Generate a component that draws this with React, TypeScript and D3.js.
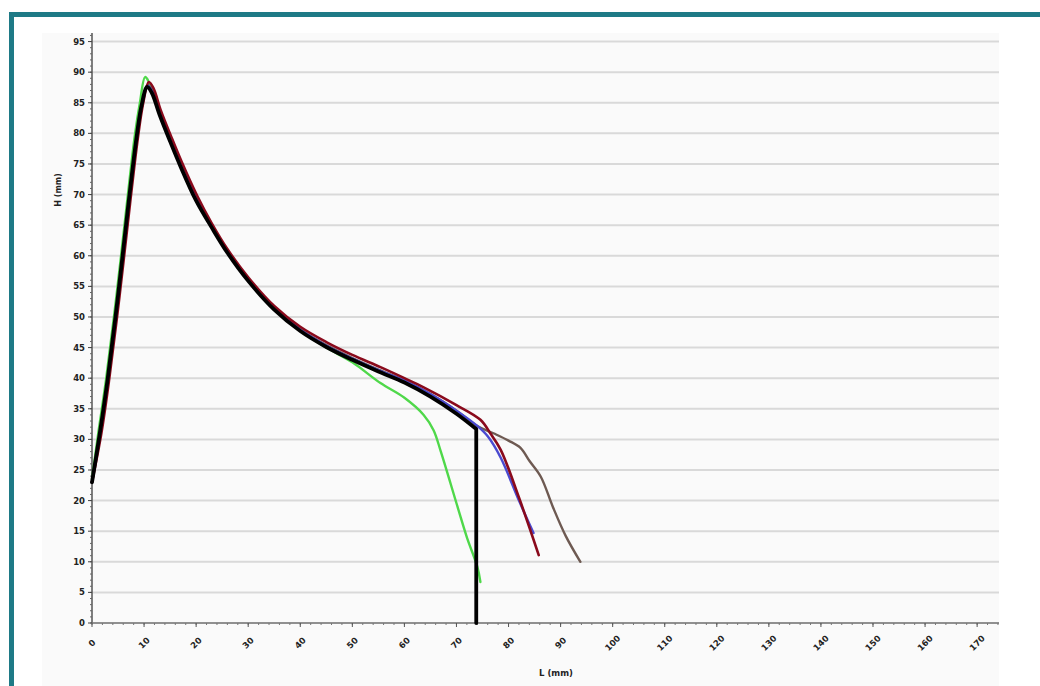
import React from "react";
import * as d3 from "d3";

// ---- data (L in mm, H in mm) ----
const yTicks = [0, 5, 10, 15, 20, 25, 30, 35, 40, 45, 50, 55, 60, 65, 70, 75, 80, 85, 90, 95];
const xTicks = [0, 10, 20, 30, 40, 50, 60, 70, 80, 90, 100, 110, 120, 130, 140, 150, 160, 170];

const greenL = [0, 1.2, 2.7, 4.7, 6.7, 8.2, 9.2, 10.2, 11, 12.5, 14.5, 17, 20, 23, 26, 30, 35, 40, 45, 50, 55.4, 60, 63.7, 65.6, 67, 70.2, 72, 74, 74.6];
const greenH = [23.5, 31, 39.8, 53.5, 68.5, 79.5, 85, 89.2, 88.3, 85, 80.3, 75, 69.3, 64.9, 60.8, 56.2, 51.4, 47.8, 45, 42.6, 39.2, 36.8, 34, 31.5, 28, 19, 14, 9.2, 6.7];

const brownL = [0, 1.6, 3.1, 5.1, 7.1, 8.6, 9.6, 10.7, 11.6, 13.1, 15.1, 17.1, 20.1, 23, 26, 30, 35, 40, 45, 50, 55, 60, 65, 70, 74, 77.1, 80, 82.3, 84, 86.2, 88.5, 91, 93.8];
const brownH = [23, 31, 39.8, 53.5, 68.5, 79, 84.5, 87.9, 86.9, 83.3, 79, 74.9, 69.3, 64.9, 60.8, 56.2, 51.5, 48, 45.4, 43.3, 41.4, 39.6, 37.4, 34.7, 32.2, 31, 29.8, 28.6, 26.5, 23.9, 19, 14.2, 10];

const blueL = [0, 1.6, 3.1, 5.1, 7.1, 8.6, 9.6, 10.7, 11.6, 13.1, 15.1, 17.1, 20.1, 23, 26, 30, 35, 40, 45, 50, 55, 60, 65, 70, 74, 76, 78.5, 82, 84.8];
const blueH = [23, 31, 39.8, 53.5, 68.5, 79, 84.5, 87.8, 86.8, 83.2, 78.9, 74.8, 69.2, 64.8, 60.7, 56.1, 51.4, 47.9, 45.3, 43.2, 41.3, 39.6, 37.4, 34.7, 32.2, 30.5, 27, 20, 14.7];

const redL = [0, 1.8, 3.3, 5.3, 7.3, 8.8, 9.8, 10.9, 11.8, 13.2, 15.2, 17.2, 20.2, 23, 26, 30, 35, 40, 45, 50, 55.4, 60, 63.7, 70, 74.6, 76.5, 78.5, 82, 85.8];
const redH = [23, 31, 39.8, 53.5, 68.5, 79.2, 84.8, 88.4, 87.4, 83.8, 79.5, 75.4, 69.8, 65.3, 61.1, 56.5, 51.8, 48.4, 45.9, 43.8, 41.8, 40, 38.5, 35.6, 33.2, 31, 28.3, 20.5, 11.1];

const blackL = [0, 1.5, 3, 5, 7, 8.5, 9.5, 10.6, 11.5, 13, 15, 17, 20, 23, 26, 30, 35, 40, 45, 50, 55, 60, 65, 70, 73.8, 73.8];
const blackH = [23, 31, 39.8, 53.5, 68.5, 79, 84.5, 87.6, 86.6, 83, 78.7, 74.6, 69, 64.6, 60.5, 55.9, 51.2, 47.7, 45.1, 43, 41.1, 39.3, 37, 34.2, 31.7, 0];

const series = [
  { name: "green", L: greenL, H: greenH, color: "#4fd84a", width: 2.4 },
  { name: "brown", L: brownL, H: brownH, color: "#6e5a52", width: 2.4 },
  { name: "blue", L: blueL, H: blueH, color: "#4a4ad0", width: 2.4 },
  { name: "red", L: redL, H: redH, color: "#8a0a1c", width: 2.6 },
  { name: "black", L: blackL, H: blackH, color: "#000000", width: 3.8 },
];

export default function App() {
  const W = 1040, H = 686;
  const x = d3.scaleLinear().domain([0, 174.2]).range([92, 999]);
  const y = d3.scaleLinear().domain([0, 96.4]).range([623, 33]);
  const smooth = d3.line<[number, number]>().x(d => x(d[0])).y(d => y(d[1])).curve(d3.curveCatmullRom.alpha(0.5));
  const straight = d3.line<[number, number]>().x(d => x(d[0])).y(d => y(d[1]));
  const xMinor = d3.range(0, 174.2, 2);
  const yMinor = d3.range(0, 96.4, 1);
  const font = "'DejaVu Sans', Verdana, sans-serif";

  const pathFor = (L: number[], Hs: number[]) => {
    const pts = L.map((v, i) => [v, Hs[i]] as [number, number]);
    // a repeated L (vertical drop) is drawn straight, the rest smoothed
    const last = pts.length - 1;
    if (pts[last][0] === pts[last - 1][0]) {
      return (smooth(pts.slice(0, last)) || "") + (straight(pts.slice(last - 1)) || "").replace(/^M/, "L");
    }
    return smooth(pts) || "";
  };

  return (
    <svg width={W} height={H} style={{ position: "absolute", left: 0, top: 0, background: "#fff" }}>
      <rect x={42} y={33} width={957} height={653} fill="#fafafa" />
      {yTicks.map(t => (
        <line key={"g" + t} x1={x(0)} x2={999} y1={y(t)} y2={y(t)} stroke="#d9d9d9" strokeWidth={2} />
      ))}
      {/* axes */}
      <line x1={x(0)} x2={x(0)} y1={33} y2={y(0)} stroke="#555" strokeWidth={1.5} />
      <line x1={x(0)} x2={999} y1={y(0)} y2={y(0)} stroke="#777" strokeWidth={1.5} />
      {yMinor.map(t => (
        <line key={"ym" + t} x1={x(0) - 2} x2={x(0)} y1={y(t)} y2={y(t)} stroke="#666" strokeWidth={1} />
      ))}
      {yTicks.map(t => (
        <line key={"yM" + t} x1={x(0) - 4} x2={x(0)} y1={y(t)} y2={y(t)} stroke="#444" strokeWidth={1} />
      ))}
      {xMinor.map(t => (
        <line key={"xm" + t} x1={x(t)} x2={x(t)} y1={y(0)} y2={y(0) + 2} stroke="#777" strokeWidth={1} />
      ))}
      {xTicks.map(t => (
        <line key={"xM" + t} x1={x(t)} x2={x(t)} y1={y(0)} y2={y(0) + 4} stroke="#555" strokeWidth={1} />
      ))}
      {yTicks.map(t => (
        <text key={"yl" + t} x={x(0) - 7} y={y(t)} dy="0.35em" textAnchor="end" fontFamily={font}
          fontWeight="bold" fontSize={8.5} fill="#222">{t}</text>
      ))}
      {xTicks.map(t => (
        <text key={"xl" + t} transform={`translate(${x(t)},${y(0) + 20}) rotate(-45)`} textAnchor="middle"
          dy="0.35em" fontFamily={font} fontWeight="bold" fontSize={8.5} fill="#222">{t}</text>
      ))}
      <text transform={`translate(58,190) rotate(-90)`} textAnchor="middle" fontFamily={font}
        fontWeight="bold" fontSize={8} fill="#222" dy="0.35em">H (mm)</text>
      <text x={556} y={673} textAnchor="middle" fontFamily={font} fontWeight="bold" fontSize={8.5}
        fill="#222" dy="0.35em">L (mm)</text>
      {/* curves */}
      {series.map(s => (
        <path key={s.name} d={pathFor(s.L, s.H)}
          fill="none" stroke={s.color} strokeWidth={s.width} strokeLinejoin="round" strokeLinecap="round" />
      ))}
      {/* frame */}
      <rect x={11.5} y={14.5} width={1040} height={690} fill="none" stroke="#1e7a86" strokeWidth={5} />
    </svg>
  );
}
